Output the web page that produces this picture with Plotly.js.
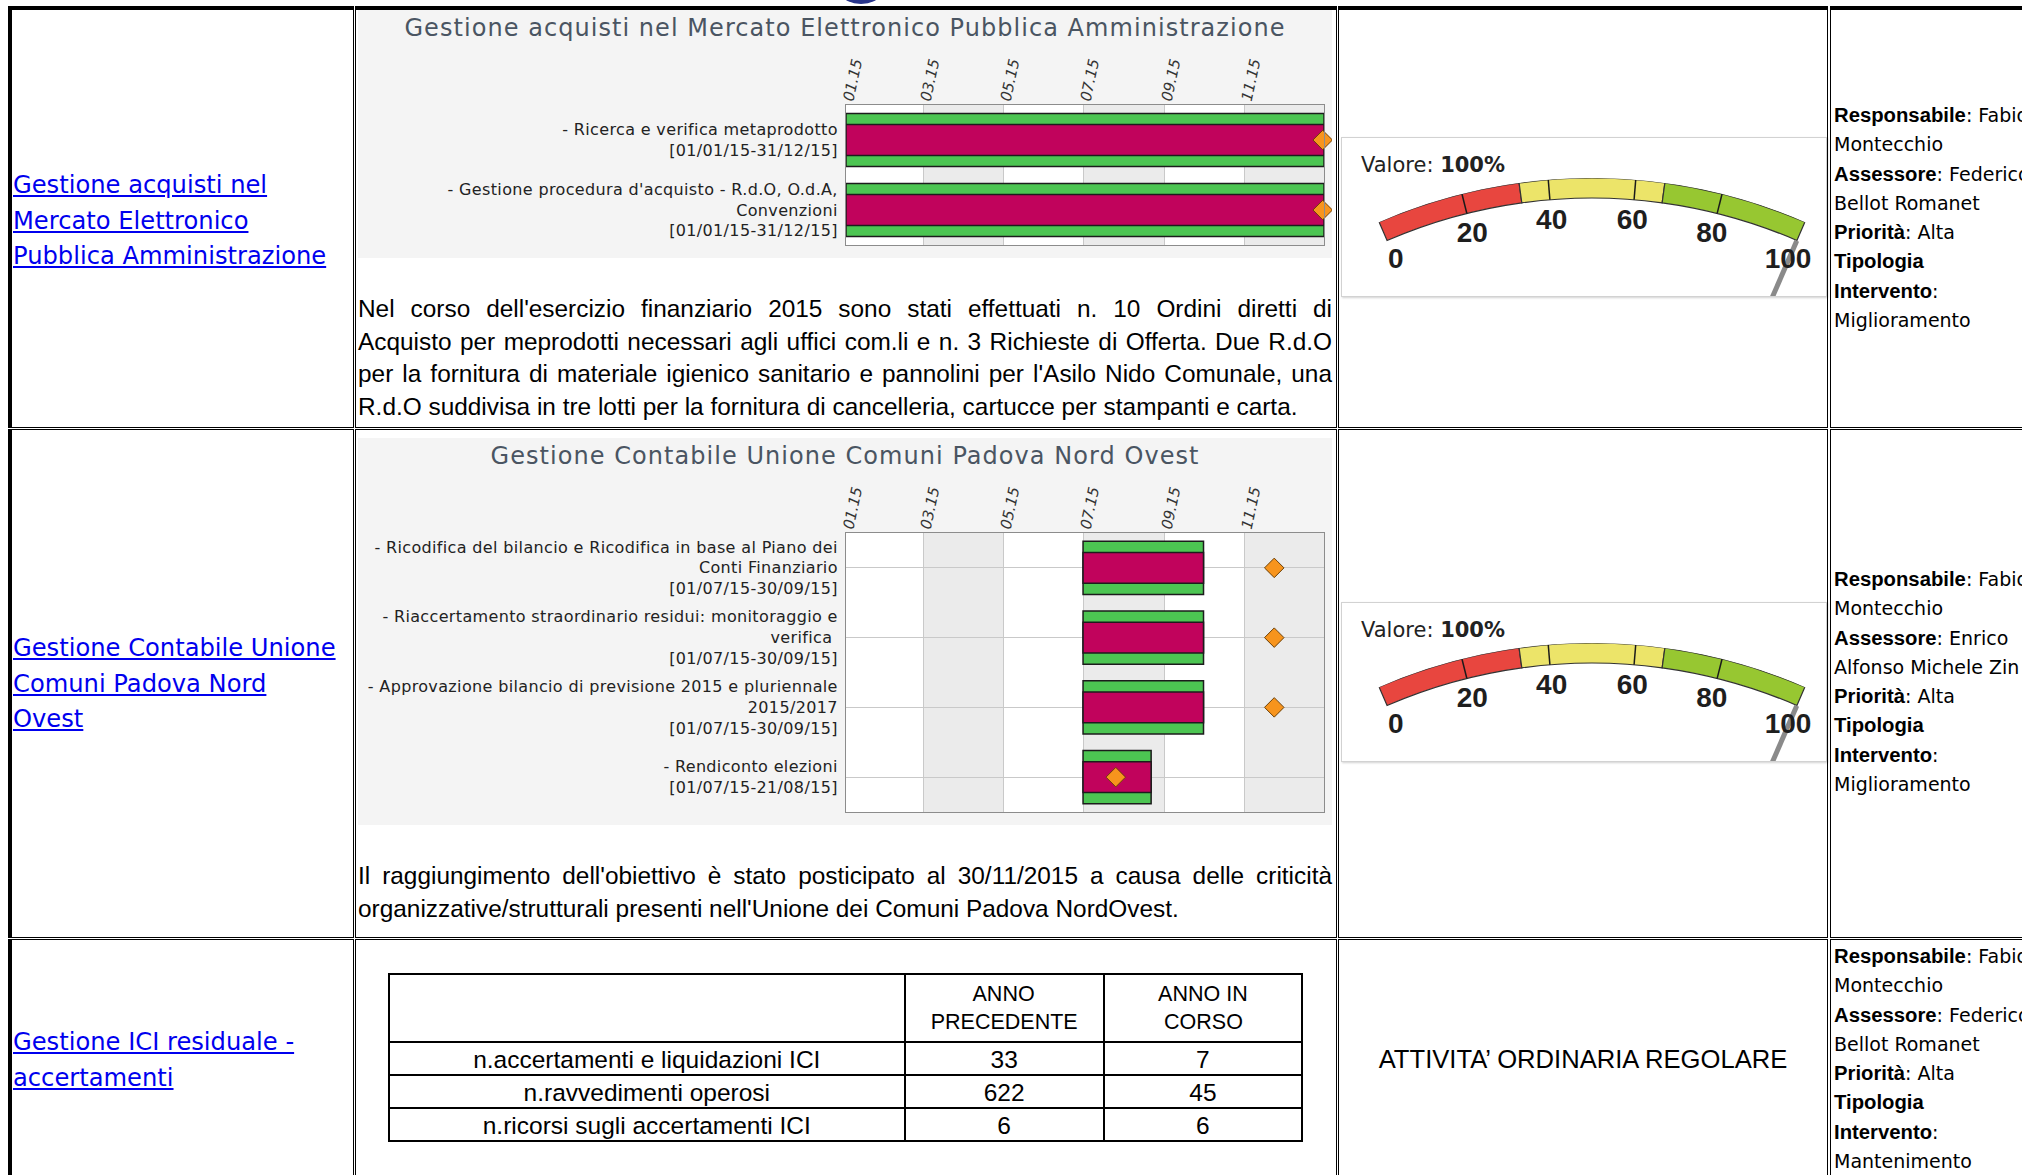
<!DOCTYPE html>
<html>
<head>
<meta charset="utf-8">
<title>Obiettivi di gestione</title>
<script src="https://cdn.plot.ly/plotly-3.0.1.min.js"></script>
<style>
  html, body { margin:0; padding:0; background:#ffffff; }
  body { width:2022px; height:1175px; overflow:hidden; position:relative; }
  .cell { position:absolute; box-sizing:border-box; border:1.5px solid #000; }
  .link { position:absolute; left:13px; font-family:'DejaVu Sans', sans-serif; font-size:24.2px; line-height:35.5px; color:#0000ee; text-decoration:underline; white-space:nowrap; }
  .info { position:absolute; left:1834px; font-family:'DejaVu Sans', sans-serif; font-size:19px; line-height:29.3px; color:#000; white-space:nowrap; }
  .info b { font-family:'Liberation Sans', Arial, sans-serif; font-weight:bold; font-size:20.3px; }
  .para { position:absolute; left:358px; width:974px; font-family:'Liberation Sans', Arial, sans-serif; font-size:24.4px; line-height:32.7px; color:#000; }
  .para div { white-space:nowrap; text-align:justify; text-align-last:justify; }
  .para div.last { text-align:left; text-align-last:left; }
  .gbox { position:absolute; left:1341px; width:486px; height:160px; box-sizing:border-box; border:1px solid #d2d2d2; overflow:hidden; background:#fff; box-shadow:1px 1px 2px rgba(0,0,0,0.18); }
  .gplot { position:absolute; left:0; top:0; width:484px; height:576px; }
  .chart { position:absolute; left:358px; width:974px; }
  .chart .gtitle { letter-spacing:1.05px; }
  .chart .ytick text { letter-spacing:0.35px; }
  .ordinaria { position:absolute; left:1338px; width:490px; text-align:center; font-family:'Liberation Sans', Arial, sans-serif; font-size:25.6px; line-height:34px; color:#000; white-space:nowrap; }
  .tablewrap { position:absolute; left:385px; top:970px; width:920px; height:196px; }
  .logo { position:absolute; left:843px; top:-14px; width:36px; height:18px; border-radius:50%; background:#27348b; }
</style>
</head>
<body>
<div class="logo"></div>

<!-- table cells (double borders) -->
<div class="cell" style="left:8px;top:6px;width:345.5px;height:422px;border-top-width:4px;border-left-width:4px;"></div>
<div class="cell" style="left:355px;top:6px;width:982px;height:422px;border-top-width:4px;"></div>
<div class="cell" style="left:1338px;top:6px;width:490px;height:422px;border-top-width:4px;"></div>
<div class="cell" style="left:1830px;top:6px;width:300px;height:422px;border-top-width:4px;"></div>

<div class="cell" style="left:8px;top:429px;width:345.5px;height:509px;border-left-width:4px;"></div>
<div class="cell" style="left:355px;top:429px;width:982px;height:509px;"></div>
<div class="cell" style="left:1338px;top:429px;width:490px;height:509px;"></div>
<div class="cell" style="left:1830px;top:429px;width:300px;height:509px;"></div>

<div class="cell" style="left:8px;top:939px;width:345.5px;height:400px;border-left-width:4px;"></div>
<div class="cell" style="left:355px;top:939px;width:982px;height:400px;"></div>
<div class="cell" style="left:1338px;top:939px;width:490px;height:400px;"></div>
<div class="cell" style="left:1830px;top:939px;width:300px;height:400px;"></div>

<!-- column 1: links -->
<div class="link" style="top:168px;">Gestione acquisti nel<br>Mercato Elettronico<br>Pubblica Amministrazione</div>
<div class="link" style="top:631px;">Gestione Contabile Unione<br>Comuni Padova Nord<br>Ovest</div>
<div class="link" style="top:1025px;">Gestione ICI residuale -<br>accertamenti</div>

<!-- column 2: charts and notes -->
<div id="gantt1" class="chart" style="top:10px;height:248px;"></div>
<div class="para" style="top:293px;">
<div>Nel corso dell'esercizio finanziario 2015 sono stati effettuati n. 10 Ordini diretti di</div>
<div>Acquisto per meprodotti necessari agli uffici com.li e n. 3 Richieste di Offerta. Due R.d.O</div>
<div>per la fornitura di materiale igienico sanitario e pannolini per l'Asilo Nido Comunale, una</div>
<div class="last">R.d.O suddivisa in tre lotti per la fornitura di cancelleria, cartucce per stampanti e carta.</div>
</div>

<div id="gantt2" class="chart" style="top:438px;height:387px;"></div>
<div class="para" style="top:860px;">
<div>Il raggiungimento dell'obiettivo è stato posticipato al 30/11/2015 a causa delle criticità</div>
<div class="last">organizzative/strutturali presenti nell'Unione dei Comuni Padova NordOvest.</div>
</div>

<div class="tablewrap"><div id="icitable" style="width:920px;height:196px;"></div></div>

<!-- column 3: gauges -->
<div class="gbox" style="top:137px;"><div id="gauge1" class="gplot"></div></div>
<div class="gbox" style="top:602px;"><div id="gauge2" class="gplot"></div></div>
<div class="ordinaria" style="top:1042px;">ATTIVITA’ ORDINARIA REGOLARE</div>

<!-- column 4: info -->
<div class="info" style="top:101px;"><b>Responsabile</b>: Fabio<br>Montecchio<br><b>Assessore</b>: Federico<br>Bellot Romanet<br><b>Priorità</b>: Alta<br><b>Tipologia</b><br><b>Intervento</b>:<br>Miglioramento</div>
<div class="info" style="top:565px;"><b>Responsabile</b>: Fabio<br>Montecchio<br><b>Assessore</b>: Enrico<br>Alfonso Michele Zin<br><b>Priorità</b>: Alta<br><b>Tipologia</b><br><b>Intervento</b>:<br>Miglioramento</div>
<div class="info" style="top:942px;"><b>Responsabile</b>: Fabio<br>Montecchio<br><b>Assessore</b>: Federico<br>Bellot Romanet<br><b>Priorità</b>: Alta<br><b>Tipologia</b><br><b>Intervento</b>:<br>Mantenimento</div>

<script>
// ================= DATA =================
// time axis
const monthTickDates  = ['2015-01-01','2015-03-01','2015-05-01','2015-07-01','2015-09-01','2015-11-01'];
const monthTickLabels = ['01.15','03.15','05.15','07.15','09.15','11.15'];
const timelineStart = '2015-01-01';
const timelineEnd   = '2016-01-01';

// Gantt 1
const chart1Title = 'Gestione acquisti nel Mercato Elettronico Pubblica Amministrazione';
const chart1Tasks = [
  '- Ricerca e verifica metaprodotto<br>[01/01/15-31/12/15]',
  "- Gestione procedura d'acquisto - R.d.O, O.d.A,<br>Convenzioni<br>[01/01/15-31/12/15]"
];
const chart1Start     = ['2015-01-01','2015-01-01'];
const chart1End       = ['2015-12-31','2015-12-31'];
const chart1Milestone = ['2015-12-31','2015-12-31'];

// Gantt 2
const chart2Title = 'Gestione Contabile Unione Comuni Padova Nord Ovest';
const chart2Tasks = [
  '- Ricodifica del bilancio e Ricodifica in base al Piano dei<br>Conti Finanziario<br>[01/07/15-30/09/15]',
  '- Riaccertamento straordinario residui: monitoraggio e<br>verifica\u00a0<br>[01/07/15-30/09/15]',
  '- Approvazione bilancio di previsione 2015 e pluriennale<br>2015/2017<br>[01/07/15-30/09/15]',
  '- Rendiconto elezioni<br>[01/07/15-21/08/15]'
];
const chart2Start     = ['2015-07-01','2015-07-01','2015-07-01','2015-07-01'];
const chart2End       = ['2015-09-30','2015-09-30','2015-09-30','2015-08-21'];
const chart2Milestone = ['2015-11-24','2015-11-24','2015-11-24','2015-07-26'];

// Gauges
const gaugeValues   = [100, 100];
const gaugeTicks    = [0, 20, 40, 60, 80, 100];
const gaugeBandFrom = [0, 33.3, 66.7];
const gaugeBandTo   = [33.3, 66.7, 100];
const gaugeMax      = 100;

// ICI table
const iciHeaders        = ['', 'ANNO<br>PRECEDENTE', 'ANNO IN<br>CORSO'];
const iciIndicators     = ['n.accertamenti e liquidazioni ICI', 'n.ravvedimenti operosi', 'n.ricorsi sugli accertamenti ICI'];
const iciAnnoPrecedente = [33, 622, 6];
const iciAnnoInCorso    = [7, 45, 6];

// ================= STYLE =================
const CHART_FONT = 'DejaVu Sans, Verdana, sans-serif';
const TEXT_FONT = 'Liberation Sans, Arial, sans-serif';
const config = {staticPlot: true, displayModeBar: false};
const DAY = 86400000;
function ms(s) { return Date.parse(s + 'T00:00:00Z'); }

function bandShapes() {
  const edges = monthTickDates.concat([timelineEnd]);
  const shapes = [];
  for (let i = 1; i < edges.length - 1; i += 2) {
    shapes.push({type:'rect', xref:'x', yref:'paper', x0:edges[i], x1:edges[i+1], y0:0, y1:1,
                 fillcolor:'#ebebeb', line:{width:0}, layer:'below'});
  }
  return shapes;
}

function ganttTraces(tasks, starts, ends, miles) {
  const dur = starts.map((s, i) => ms(ends[i]) + DAY - ms(s));
  return [
    {type:'bar', orientation:'h', y:tasks, x:dur, base:starts, width:0.76,
     marker:{color:'#4cc552', line:{color:'#1c1c1c', width:1.5}}},
    {type:'bar', orientation:'h', y:tasks, x:dur, base:starts, width:0.44,
     marker:{color:'#c1035c', line:{color:'#1c1c1c', width:1.5}}},
    {type:'scatter', mode:'markers', y:tasks, x:miles, cliponaxis:false,
     marker:{symbol:'diamond', size:15, color:'#f7941d', line:{color:'#6b4008', width:1}}}
  ];
}

function ganttLayout(title, H) {
  return {
    width:974, height:H,
    margin:{l:488, r:8, t:95, b:13},
    paper_bgcolor:'#f4f4f4', plot_bgcolor:'#ffffff',
    showlegend:false, barmode:'overlay',
    title:{text:title, font:{family:CHART_FONT, size:24, color:'#4a5562'},
           x:0.5, xanchor:'center', xref:'container', y:1 - 18 / H, yanchor:'middle', yref:'container'},
    xaxis:{type:'date', range:[timelineStart, timelineEnd], side:'top',
           tickmode:'array', tickvals:monthTickDates, ticktext:monthTickLabels, tickangle:-78,
           tickfont:{family:CHART_FONT, size:15, color:'#333333', style:'italic'}, ticks:'', ticklabelstandoff:-10,
           showgrid:true, gridcolor:'#c9c9c9', gridwidth:1,
           showline:true, linecolor:'#8c8c8c', linewidth:1, mirror:true, zeroline:false},
    yaxis:{type:'category', autorange:'reversed',
           tickfont:{family:CHART_FONT, size:16, color:'#222222'}, ticks:'', ticklabelstandoff:4,
           showgrid:true, gridcolor:'#c9c9c9', gridwidth:1,
           showline:true, linecolor:'#8c8c8c', linewidth:1, mirror:true, zeroline:false},
    shapes:bandShapes()
  };
}

Plotly.newPlot('gantt1', ganttTraces(chart1Tasks, chart1Start, chart1End, chart1Milestone),
               ganttLayout(chart1Title, 248), config);
Plotly.newPlot('gantt2', ganttTraces(chart2Tasks, chart2Start, chart2End, chart2Milestone),
               ganttLayout(chart2Title, 387), config);

// ---------- gauges ----------
const ARC_DEG = 46.8;      // angular span of the arc
const ARC_LEFT = 113.4;    // screen angle of value 0
const BAND_IN = 0.9626;    // inner radius of the coloured band (fraction of outer)
function th(v) { return v / gaugeMax * ARC_DEG; }

function gaugeFigure(value) {
  const bandColors = ['#e8463f', '#ece469', '#97c731'];
  const minor = gaugeTicks.filter(v => v > 0 && v < gaugeMax);
  const tr = [], tt = [];
  minor.forEach(v => { tr.push(BAND_IN, 1, null); tt.push(th(v), th(v), null); });
  const data = [
    {type:'barpolar', theta:gaugeBandFrom.map((a, i) => th((a + gaugeBandTo[i]) / 2)),
     width:gaugeBandFrom.map((a, i) => th(gaugeBandTo[i] - a)),
     base:gaugeBandFrom.map(() => BAND_IN), r:gaugeBandFrom.map(() => 1 - BAND_IN),
     marker:{color:bandColors, line:{color:'#333333', width:1.2}}},
    {type:'scatterpolar', mode:'lines', r:tr, theta:tt, connectgaps:false, cliponaxis:false,
     line:{color:'#1a1a1a', width:1.5}},
    {type:'scatterpolar', mode:'lines', r:[0.70, 0.962], theta:[th(value), th(value)], cliponaxis:false,
     line:{color:'#8a8a8a', width:5}},
    {type:'scatterpolar', mode:'text', r:gaugeTicks.map(() => 0.921), theta:gaugeTicks.map(th),
     text:gaugeTicks.map(String), cliponaxis:false, textposition:'middle center',
     textfont:{family:TEXT_FONT, size:28, color:'#1e1e1e', weight:'bold'}}
  ];
  const layout = {
    width:484, height:576, margin:{l:0, r:0, t:0, b:0},
    paper_bgcolor:'rgba(0,0,0,0)', showlegend:false,
    polar:{domain:{x:[0.033, 1], y:[0, 0.9306]}, sector:[ARC_LEFT - ARC_DEG - 0.5, ARC_LEFT + 0.5], hole:0,
           bgcolor:'rgba(0,0,0,0)',
           angularaxis:{visible:false, rotation:ARC_LEFT, direction:'clockwise', thetaunit:'degrees'},
           radialaxis:{visible:false, range:[0, 1]}},
    annotations:[{xref:'paper', yref:'paper', x:0.035, y:0.953, xanchor:'left', yanchor:'middle',
                  showarrow:false, text:'Valore: <b>' + value + '%</b>',
                  font:{family:CHART_FONT, size:21, color:'#222222'}}]
  };
  return {data, layout};
}
const g1 = gaugeFigure(gaugeValues[0]);
Plotly.newPlot('gauge1', g1.data, g1.layout, config);
const g2 = gaugeFigure(gaugeValues[1]);
Plotly.newPlot('gauge2', g2.data, g2.layout, config);

// ---------- ICI table ----------
const HEADER_SIZE = 21.5;
// centre every line of a multi-line header by padding shorter lines with no-break spaces
function centerLines(label, size) {
  const ctx = document.createElement('canvas').getContext('2d');
  ctx.font = size + 'px "Liberation Sans", Arial, sans-serif';
  const lines = label.split('<br>');
  const widths = lines.map(l => ctx.measureText(l).width);
  const maxW = Math.max.apply(null, widths);
  const nb = ctx.measureText('\u00a0').width || 1;
  return lines.map((l, i) => '\u00a0'.repeat(Math.round((maxW - widths[i]) / 2 / nb)) + l).join('<br>');
}

Plotly.newPlot('icitable', [{
  type:'table',
  domain:{x:[4 / 920, 917 / 920], y:[0, 1 - 4 / 196]},
  columnwidth:[515, 199, 198],
  header:{values:iciHeaders.map(h => centerLines(h, HEADER_SIZE)), align:'center', height:68,
          line:{color:'#000000', width:2}, fill:{color:'#ffffff'},
          font:{family:TEXT_FONT, size:HEADER_SIZE, color:'#000000'}},
  cells:{values:[iciIndicators, iciAnnoPrecedente.map(String), iciAnnoInCorso.map(String)], align:'center', height:33,
         line:{color:'#000000', width:2}, fill:{color:'#ffffff'},
         font:{family:TEXT_FONT, size:24.5, color:'#000000'}}
}], {width:920, height:196, margin:{l:0, r:0, t:0, b:0}, paper_bgcolor:'rgba(0,0,0,0)'}, config);
</script>
</body>
</html>
